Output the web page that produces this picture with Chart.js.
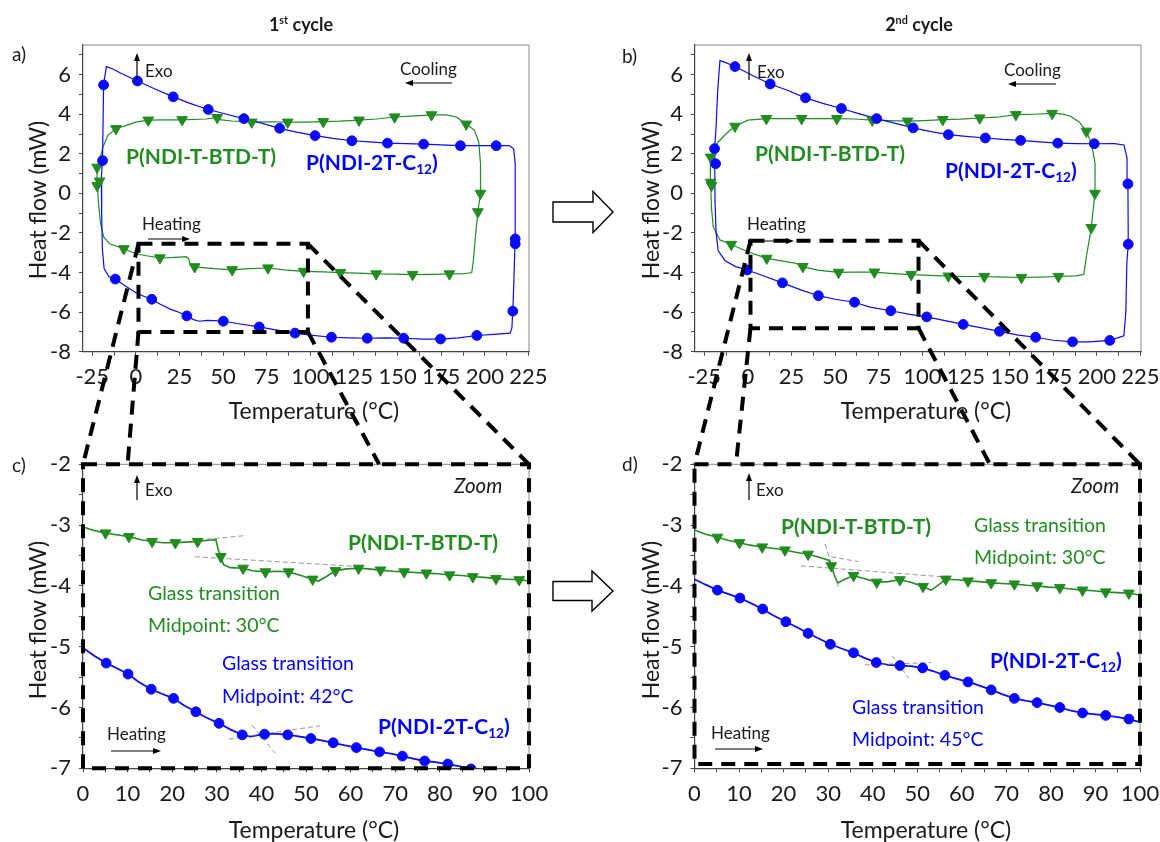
<!DOCTYPE html>
<html lang="en">
<head>
<meta charset="UTF-8">
<title>DSC heating / cooling cycles</title>
<script src="https://cdn.jsdelivr.net/npm/chart.js"></script>
<style>
  body { margin: 0; background: #fff; font-family: 'Lato', sans-serif; }
  #page { position: relative; width: 1160px; height: 842px; overflow: hidden; background: #fff; }
  #page canvas { position: absolute; }
  #overlay { left: 0; top: 0; pointer-events: none; }
  .t { position: absolute; white-space: nowrap; line-height: 1; transform: translateY(-50%); color: #1a1a1a; }
  .mid { transform: translate(-50%, -50%); }
  .rot { transform: translate(-50%, -50%) rotate(-90deg); }
  .axis { font-size: 23px; }
  .head { font-size: 18px; font-weight: 700; }
  .tag { font-size: 19px; }
  .note { font-size: 17px; }
  .zoom { font-size: 20.5px; font-style: italic; }
  .poly { font-size: 21px; font-weight: 700; }
  .gt { font-size: 19.5px; }
  .g { color: #228b22; }
  .b { color: #0000ff; }
  sup { font-size: 0.6em; vertical-align: 0.7em; }
  sub { font-size: 0.65em; vertical-align: -0.3em; }
</style>
</head>
<body>
<div id="page">
  <canvas id="chA" width="580" height="420" style="left:0;top:0"></canvas>
  <canvas id="chB" width="600" height="420" style="left:580px;top:0"></canvas>
  <canvas id="chC" width="580" height="422" style="left:0;top:420px"></canvas>
  <canvas id="chD" width="600" height="422" style="left:580px;top:420px"></canvas>
  <canvas id="overlay" width="1160" height="842"></canvas>

  <div class="t mid head" style="left:301px;top:24px">1<sup>st</sup> cycle</div>
  <div class="t mid head" style="left:919px;top:24px">2<sup>nd</sup> cycle</div>

  <div class="t tag" style="left:12px;top:53px">a)</div>
  <div class="t tag" style="left:622px;top:55px">b)</div>
  <div class="t tag" style="left:12px;top:464px">c)</div>
  <div class="t tag" style="left:622px;top:463px">d)</div>

  <div class="t rot axis" style="left:37px;top:200px">Heat flow (mW)</div>
  <div class="t rot axis" style="left:650px;top:200px">Heat flow (mW)</div>
  <div class="t rot axis" style="left:37px;top:620px">Heat flow (mW)</div>
  <div class="t rot axis" style="left:650px;top:620px">Heat flow (mW)</div>
  <div class="t mid axis" style="left:314px;top:410px">Temperature (°C)</div>
  <div class="t mid axis" style="left:926px;top:410px">Temperature (°C)</div>
  <div class="t mid axis" style="left:314px;top:829px">Temperature (°C)</div>
  <div class="t mid axis" style="left:926px;top:829px">Temperature (°C)</div>

  <!-- panel a -->
  <div class="t note" style="left:145px;top:70px">Exo</div>
  <div class="t note" style="left:400px;top:68px">Cooling</div>
  <div class="t note" style="left:142px;top:223px">Heating</div>
  <div class="t poly g" style="left:126px;top:155px">P(NDI-T-BTD-T)</div>
  <div class="t poly b" style="left:306px;top:164px">P(NDI-2T-C<sub>12</sub>)</div>

  <!-- panel b -->
  <div class="t note" style="left:757px;top:71px">Exo</div>
  <div class="t note" style="left:1004px;top:69px">Cooling</div>
  <div class="t note" style="left:747px;top:223px">Heating</div>
  <div class="t poly g" style="left:755px;top:152px">P(NDI-T-BTD-T)</div>
  <div class="t poly b" style="left:945px;top:172px">P(NDI-2T-C<sub>12</sub>)</div>

  <!-- panel c -->
  <div class="t note" style="left:145px;top:489px">Exo</div>
  <div class="t zoom" style="left:454px;top:485px">Zoom</div>
  <div class="t poly g" style="left:348px;top:541px">P(NDI-T-BTD-T)</div>
  <div class="t gt g" style="left:148px;top:593px">Glass transition</div>
  <div class="t gt g" style="left:148px;top:625px">Midpoint: 30°C</div>
  <div class="t gt b" style="left:222px;top:663px">Glass transition</div>
  <div class="t gt b" style="left:222px;top:696px">Midpoint: 42°C</div>
  <div class="t poly b" style="left:378px;top:728px">P(NDI-2T-C<sub>12</sub>)</div>
  <div class="t note" style="left:107px;top:733px">Heating</div>

  <!-- panel d -->
  <div class="t note" style="left:756px;top:489px">Exo</div>
  <div class="t zoom" style="left:1071px;top:485px">Zoom</div>
  <div class="t poly g" style="left:781px;top:525px">P(NDI-T-BTD-T)</div>
  <div class="t gt g" style="left:974px;top:525px">Glass transition</div>
  <div class="t gt g" style="left:974px;top:557px">Midpoint: 30°C</div>
  <div class="t poly b" style="left:990px;top:662px">P(NDI-2T-C<sub>12</sub>)</div>
  <div class="t gt b" style="left:852px;top:707px">Glass transition</div>
  <div class="t gt b" style="left:852px;top:739px">Midpoint: 45°C</div>
  <div class="t note" style="left:711px;top:732px">Heating</div>
</div>

<script>
// ---- data: [temperature °C, heat flow mW] ----

// 1st cycle, heating along the bottom then cooling back along the top
const c1Blue = [[-19.8,0.8],[-19.6,-1.0],[-19.2,-2.8],[-18.2,-3.8],[-15.5,-4.2],[-11.8,-4.33],[-6,-4.68],[0,-5.02],[4.5,-5.2],[9.1,-5.35],[14,-5.6],[20,-5.86],[25,-6.02],[29.2,-6.19],[33,-6.38],[36.5,-6.46],[41,-6.42],[45,-6.43],[50.1,-6.46],[60,-6.6],[70.7,-6.75],[80,-6.9],[91.2,-7.06],[100,-7.16],[112.1,-7.27],[122,-7.3],[132.6,-7.32],[143,-7.3],[153.5,-7.32],[164,-7.36],[174.6,-7.36],[185,-7.3],[195.4,-7.18],[205,-7.12],[214.5,-7.06],[215.5,-6.8],[216,-5.95],[216.6,-4.5],[217.3,-2.45],[217.5,-0.5],[217.3,1.5],[216.5,2.25],[214,2.42],[206.5,2.41],[196,2.41],[186,2.41],[175,2.45],[164.9,2.49],[155,2.52],[144.2,2.54],[134,2.6],[123.8,2.66],[113,2.78],[102.7,2.92],[92,3.1],[82.4,3.29],[72,3.55],[61.9,3.78],[52,4.0],[41.5,4.24],[31,4.55],[21.4,4.88],[11,5.28],[0.9,5.68],[-8,6.05],[-13.5,6.3],[-16.9,6.41],[-17.8,5.9],[-18.5,5.48],[-19.1,1.66],[-19.8,0.8]];
const c1BlueMarks = [[-18.5,5.48],[-19.1,1.66],[0.9,5.68],[21.4,4.88],[41.5,4.24],[61.9,3.78],[82.4,3.29],[102.7,2.92],[123.8,2.66],[144.2,2.54],[164.9,2.49],[186,2.41],[206.5,2.41],[217.4,-2.3],[217.4,-2.55],[216,-5.95],[195.4,-7.18],[174.6,-7.36],[153.5,-7.32],[132.6,-7.32],[112.1,-7.27],[91.2,-7.06],[70.7,-6.75],[50.1,-6.46],[29.2,-6.19],[9.1,-5.35],[-11.8,-4.33]];

const c1Green = [[-22,0.35],[-21.3,-0.6],[-20.3,-1.5],[-18.5,-2.2],[-15,-2.55],[-6.9,-2.8],[0,-3.05],[6,-3.15],[13.8,-3.26],[20,-3.25],[29,-3.2],[30.2,-3.3],[31.3,-3.6],[33.7,-3.71],[45,-3.8],[55.2,-3.86],[65,-3.8],[75.7,-3.77],[85,-3.86],[96.1,-3.94],[107.4,-3.97],[117.2,-4.0],[127,-4.03],[137.7,-4.07],[148,-4.08],[158.6,-4.1],[170,-4.09],[179.7,-4.07],[188,-4.06],[192.5,-4.0],[193.3,-3.5],[194.8,-2.0],[196,-0.93],[197.5,0.0],[197.5,1.5],[196.5,2.6],[194,3.2],[189.3,3.5],[184,3.85],[178,3.97],[169.4,3.97],[160,3.92],[148.3,3.86],[138,3.76],[127.9,3.7],[117,3.65],[107.4,3.63],[97,3.6],[87,3.6],[76,3.62],[66.4,3.6],[55,3.66],[49,3.72],[46.6,3.83],[40,3.76],[26.5,3.72],[17,3.72],[7.1,3.7],[0,3.6],[-5,3.45],[-11.4,3.27],[-16,2.95],[-19,2.3],[-21,1.6],[-22.2,1.32],[-22.3,0.4]];
const c1GreenMarks = [[-22.2,1.32],[-22.2,0.39],[-20.8,0.62],[-11.4,3.27],[7.1,3.7],[26.5,3.72],[46.6,3.83],[66.4,3.6],[87,3.6],[107.4,3.63],[127.9,3.7],[148.3,3.86],[169.4,3.97],[189.3,3.5],[197.5,0.0],[196,-0.93],[179.7,-4.07],[158.6,-4.1],[137.7,-4.07],[117.2,-4.0],[96.1,-3.94],[75.7,-3.77],[55.2,-3.86],[33.7,-3.71],[13.8,-3.26],[-6.9,-2.8]];

// 2nd cycle
const c2Blue = [[-19,1.2],[-18.8,-0.5],[-18.2,-2.0],[-17,-2.9],[-13,-3.4],[-7,-3.7],[-0.4,-3.87],[10,-4.2],[19.8,-4.52],[30,-4.86],[40.4,-5.17],[50,-5.35],[61.1,-5.5],[70,-5.75],[81.9,-5.93],[92,-6.1],[102.5,-6.24],[113,-6.43],[123.4,-6.62],[134,-6.8],[144.2,-6.97],[155,-7.16],[164.9,-7.27],[175,-7.42],[186.1,-7.5],[196,-7.5],[207.4,-7.43],[215.5,-7.2],[216.6,-6.0],[217.2,-3.5],[218,-2.57],[217.8,0.48],[217.3,1.8],[215.5,2.45],[210,2.52],[198.5,2.51],[188,2.52],[177.6,2.54],[167,2.6],[156.3,2.68],[146,2.73],[136.1,2.8],[125,2.88],[114.9,2.97],[105,3.12],[94.7,3.31],[84,3.55],[73.8,3.78],[64,4.02],[53.6,4.29],[43,4.55],[33,4.83],[23,5.2],[12.8,5.53],[3,5.95],[-7.4,6.41],[-13,6.62],[-16,6.71],[-17.3,5.2],[-18.3,3.2],[-19.1,2.26],[-19,1.2]];
const c2BlueMarks = [[-7.4,6.41],[12.8,5.53],[33,4.83],[53.6,4.29],[73.8,3.78],[94.7,3.31],[114.9,2.97],[136.1,2.8],[156.3,2.68],[177.6,2.54],[198.5,2.51],[217.8,0.48],[218,-2.57],[207.4,-7.43],[186.1,-7.5],[164.9,-7.27],[144.2,-6.97],[123.4,-6.62],[102.5,-6.24],[81.9,-5.93],[61.1,-5.5],[40.4,-5.17],[19.8,-4.52],[-0.4,-3.87],[-19.1,2.26],[-18.5,1.5]];

const c2Green = [[-21.3,0.4],[-20.8,-0.8],[-19.8,-1.7],[-16,-2.35],[-9.5,-2.58],[0,-2.95],[10.8,-3.28],[20,-3.42],[27,-3.52],[31.5,-3.7],[40,-3.88],[52,-3.99],[60,-3.98],[72.5,-3.98],[83,-4.05],[93.6,-4.1],[104,-4.14],[114.9,-4.18],[125,-4.2],[135.5,-4.2],[146,-4.23],[156.8,-4.25],[167,-4.23],[178,-4.2],[188,-4.17],[192.5,-4.1],[194,-3.2],[196.8,-1.73],[198.9,0.0],[199,1.5],[197,2.5],[194,3.14],[190,3.6],[185,3.9],[180,4.02],[174.4,4.04],[164,4.0],[153.6,3.98],[143,3.85],[132.9,3.81],[122,3.75],[111.7,3.73],[101,3.68],[91.5,3.65],[81,3.68],[71.3,3.7],[61,3.76],[51,3.78],[40,3.78],[30.8,3.78],[20,3.78],[10.6,3.78],[0,3.7],[-7.4,3.39],[-12,3.05],[-17,2.6],[-20,2.1],[-21.3,1.83],[-21.5,0.56]];
const c2GreenMarks = [[-21.3,1.83],[-21.3,0.56],[-20.8,0.4],[-7.4,3.39],[10.6,3.78],[30.8,3.78],[51,3.78],[71.3,3.7],[91.5,3.65],[111.7,3.73],[132.9,3.81],[153.6,3.98],[174.4,4.04],[194,3.14],[198.9,0.0],[196.8,-1.73],[178,-4.2],[156.8,-4.25],[135.5,-4.2],[114.9,-4.18],[93.6,-4.1],[72.5,-3.98],[52,-3.99],[31.5,-3.7],[10.8,-3.28],[-9.5,-2.58]];

// heating runs between 0 and 100 °C, zoomed
const z1Green = [[0,-3.03],[2.5,-3.09],[5.05,-3.13],[7.5,-3.16],[10.3,-3.19],[13,-3.24],[15.5,-3.27],[18,-3.29],[20.7,-3.29],[23,-3.28],[25.7,-3.27],[28,-3.25],[29.8,-3.24],[30.3,-3.4],[30.9,-3.52],[31.5,-3.65],[33,-3.7],[35.9,-3.71],[38,-3.75],[40.9,-3.77],[43.5,-3.76],[46.1,-3.77],[48.5,-3.82],[51.5,-3.89],[52.8,-3.92],[54.5,-3.85],[56.6,-3.75],[59,-3.72],[61.8,-3.71],[64,-3.72],[66.7,-3.74],[69.5,-3.76],[72,-3.77],[74.5,-3.78],[77,-3.79],[79.5,-3.8],[82.2,-3.82],[85,-3.83],[87.4,-3.85],[90,-3.86],[92.6,-3.88],[95,-3.89],[97.8,-3.9],[100,-3.92]];
const z1GreenMarkT = [5.05,10.3,15.5,20.7,25.7,30.9,35.9,40.9,46.1,51.5,56.6,61.8,66.7,72,77,82.2,87.4,92.6,97.8];
const z1Blue = [[0,-5.02],[2.5,-5.15],[5.2,-5.27],[7.5,-5.35],[10.1,-5.45],[12.5,-5.58],[15.3,-5.7],[17.5,-5.77],[20.3,-5.85],[22.5,-5.96],[25.3,-6.07],[27.5,-6.16],[30.5,-6.26],[33,-6.36],[35.7,-6.45],[37.5,-6.48],[39,-6.46],[40.7,-6.44],[43,-6.43],[45.9,-6.45],[48,-6.47],[51.1,-6.51],[53.5,-6.54],[56.1,-6.58],[58.5,-6.62],[61.3,-6.66],[63.5,-6.69],[66.5,-6.73],[69,-6.76],[71.6,-6.8],[74,-6.84],[76.6,-6.88],[79,-6.9],[81.8,-6.93],[84.5,-6.97],[87,-7.01],[90,-7.06],[95,-7.14],[100,-7.22]];
const z1BlueMarkT = [5.2,10.1,15.3,20.3,25.3,30.5,35.7,40.7,45.9,51.1,56.1,61.3,66.5,71.6,76.6,81.8,87];
const z1Tangents = [[[25.9,-3.245],[36.7,-3.17]],[[25.1,-3.52],[61.5,-3.68]],[[32.7,-6.52],[53.1,-6.30]],[[37.9,-6.29],[43.1,-6.75]]];

const z2Green = [[0,-3.08],[2.5,-3.15],[5.15,-3.2],[7.5,-3.25],[10.1,-3.29],[12.5,-3.33],[15.2,-3.36],[17.5,-3.38],[20.3,-3.41],[23,-3.45],[25.5,-3.48],[28,-3.53],[30.2,-3.58],[30.7,-3.67],[31.5,-3.85],[32.2,-3.95],[33.5,-3.9],[35.7,-3.83],[38,-3.88],[40.9,-3.94],[43.5,-3.93],[46.1,-3.9],[48.5,-3.94],[51.3,-4.01],[53.1,-4.07],[54.5,-4.0],[56.4,-3.89],[59,-3.9],[61.4,-3.92],[64,-3.93],[66.6,-3.95],[69,-3.96],[71.8,-3.97],[74.5,-3.99],[76.9,-4.0],[79.5,-4.02],[82,-4.03],[84.5,-4.05],[87.1,-4.07],[89.5,-4.08],[92.3,-4.1],[95,-4.11],[97.5,-4.12],[100,-4.15]];
const z2GreenMarkT = [5.15,10.1,15.2,20.3,25.5,30.7,35.7,40.9,46.1,51.3,56.4,61.4,66.6,71.8,76.9,82,87.1,92.3,97.5];
const z2Blue = [[0,-3.89],[2.5,-3.98],[5.15,-4.07],[7.5,-4.13],[10.2,-4.2],[12.5,-4.28],[15.3,-4.38],[17.5,-4.48],[20.5,-4.59],[23,-4.68],[25.5,-4.78],[28,-4.87],[30.5,-4.96],[33,-5.03],[35.7,-5.1],[38,-5.18],[40.8,-5.26],[43.5,-5.3],[46.1,-5.31],[48.5,-5.32],[51.2,-5.35],[53.5,-5.4],[56.2,-5.47],[58.5,-5.52],[61.4,-5.58],[64,-5.64],[66.6,-5.71],[69,-5.78],[71.8,-5.85],[74.5,-5.89],[76.9,-5.92],[79.5,-5.96],[82,-6.0],[84.5,-6.05],[87.1,-6.09],[89.5,-6.11],[92.3,-6.13],[95,-6.16],[97.5,-6.19],[100,-6.24]];
const z2BlueMarkT = [5.15,10.2,15.3,20.5,25.5,30.5,35.7,40.8,46.1,51.2,56.2,61.4,66.6,71.8,76.9,82,87.1,92.3,97.5];
const z2Tangents = [[[29.3,-3.31],[32.4,-4.04]],[[23.9,-3.67],[55.6,-3.85]],[[30.7,-3.52],[36.7,-3.6]],[[38.2,-5.30],[53.1,-5.26]],[[44.4,-5.15],[48.1,-5.52]]];

// tick values
const fullTempMajor = [-25,0,25,50,75,100,125,150,175,200,225];
const fullTempMinor = [-12.5,12.5,37.5,62.5,87.5,112.5,137.5,162.5,187.5,212.5];
const fullHeatMajor = [-8,-6,-4,-2,0,2,4,6];
const fullHeatMinor = [-7,-5,-3,-1,1,3,5,7];
const zoomTempMajor = [0,10,20,30,40,50,60,70,80,90,100];
const zoomTempMinor = [5,15,25,35,45,55,65,75,85,95];
const zoomHeatMajor = [-7,-6,-5,-4,-3,-2];
const zoomHeatMinor = [-6.5,-5.5,-4.5,-3.5,-2.5];

const BLUE = '#0a0aff';
const GREEN = '#228b22';

Chart.defaults.font.family = "'Lato', sans-serif";
Chart.defaults.color = '#1a1a1a';

const pts = arr => arr.map(([x, y]) => ({ x, y }));
const pick = (path, temps) => path.filter(p => temps.includes(p[0]));

function axis(min, max, major, minor, size) {
  const all = major.concat(minor).sort((a, b) => a - b);
  return {
    type: 'linear', min, max,
    afterBuildTicks: s => { s.ticks = all.map(v => ({ value: v })); },
    afterFit: s => {
      if (s.isHorizontal()) { s.height = size; s.paddingLeft = 0; s.paddingRight = 0; }
      else { s.width = size; s.paddingTop = 0; s.paddingBottom = 0; }
    },
    grid: { drawOnChartArea: false, drawTicks: true, tickLength: 4, color: '#444' },
    border: { color: '#444', width: 1.2 },
    ticks: {
      autoSkip: false, maxRotation: 0, padding: 8, color: '#1a1a1a',
      font: { size: 22 },
      callback: v => major.includes(v) ? String(v) : ''
    }
  };
}

function curve(data, color, width, clip) {
  return { data: pts(data), showLine: true, borderColor: color, borderWidth: width,
           pointRadius: 0, tension: 0, clip };
}
function marks(data, color, style, clip) {
  const tri = style === 'triangle';
  return { data: pts(data), showLine: false, pointStyle: style, rotation: tri ? 180 : 0,
           pointRadius: tri ? 6.2 : 4.9, backgroundColor: color, borderColor: color,
           borderWidth: 1, clip };
}
function tangent(seg) {
  return { data: pts(seg), showLine: true, borderColor: '#7a7a7a', borderWidth: 0.8,
           borderDash: [5, 3], pointRadius: 0, clip: 0 };
}

// thin box on the top and right sides of the plot
const framePlugin = {
  id: 'frame',
  afterDraw(chart) {
    const { ctx, chartArea: a } = chart;
    ctx.save();
    ctx.strokeStyle = '#888';
    ctx.lineWidth = 1;
    ctx.beginPath();
    ctx.moveTo(a.left, a.top);
    ctx.lineTo(a.right, a.top);
    ctx.lineTo(a.right, a.bottom);
    ctx.stroke();
    ctx.restore();
  }
};

function makeChart(id, datasets, xAxis, yAxis, padding) {
  return new Chart(document.getElementById(id), {
    type: 'scatter',
    data: { datasets },
    options: {
      responsive: false, animation: false, devicePixelRatio: 1,
      layout: { padding },
      scales: { x: xAxis, y: yAxis },
      plugins: { legend: { display: false }, tooltip: { enabled: false } }
    },
    plugins: [framePlugin]
  });
}

const fullX = () => axis(-30.3, 225.3, fullTempMajor, fullTempMinor, 40);
const fullY = () => axis(-8, 7.5, fullHeatMajor, fullHeatMinor, 60);
const zoomX = () => axis(0, 100, zoomTempMajor, zoomTempMinor, 40);
const zoomY = () => axis(-7, -2, zoomHeatMajor, zoomHeatMinor, 60);

const chartA = makeChart('chA', [
  marks(c1BlueMarks, BLUE, 'circle'), marks(c1GreenMarks, GREEN, 'triangle'),
  curve(c1Blue, BLUE, 1.2), curve(c1Green, GREEN, 1.2)
], fullX(), fullY(), { left: 23, top: 45, right: 51, bottom: 28.3 });

const chartB = makeChart('chB', [
  marks(c2BlueMarks, BLUE, 'circle'), marks(c2GreenMarks, GREEN, 'triangle'),
  curve(c2Blue, BLUE, 1.2), curve(c2Green, GREEN, 1.2)
], fullX(), fullY(), { left: 55, top: 45, right: 39, bottom: 28.3 });

const chartC = makeChart('chC', [
  marks(pick(z1Blue, z1BlueMarkT), BLUE, 'circle', 0), marks(pick(z1Green, z1GreenMarkT), GREEN, 'triangle', 0),
  ...z1Tangents.map(tangent),
  curve(z1Blue, BLUE, 1.8, 0), curve(z1Green, GREEN, 1.6, 0)
], zoomX(), zoomY(), { left: 23, top: 44.3, right: 51, bottom: 33.7 });

const chartD = makeChart('chD', [
  marks(pick(z2Blue, z2BlueMarkT), BLUE, 'circle', 0), marks(pick(z2Green, z2GreenMarkT), GREEN, 'triangle', 0),
  ...z2Tangents.map(tangent),
  curve(z2Blue, BLUE, 1.8, 0), curve(z2Green, GREEN, 1.6, 0)
], zoomX(), zoomY(), { left: 54.5, top: 44.3, right: 40, bottom: 33.7 });

// ---- overlay: zoom boxes, connector lines and small arrows ----
const ov = document.getElementById('overlay').getContext('2d');

function toPage(chart, x, y) {
  const c = chart.canvas;
  return [c.offsetLeft + chart.scales.x.getPixelForValue(x), c.offsetTop + chart.scales.y.getPixelForValue(y)];
}
function seg(a, b) {
  ov.beginPath(); ov.moveTo(a[0], a[1]); ov.lineTo(b[0], b[1]); ov.stroke();
}
function rectFrom(a, b) {
  ov.strokeRect(a[0], a[1], b[0] - a[0], b[1] - a[1]);
}

// box in the full cycle, projected onto the zoomed panel below it
function zoomLink(src, box, dst, feet, frameBottom) {
  const tl = toPage(src, box[0], box[2]);
  const br = toPage(src, box[1], box[3]);
  const dTL = toPage(dst, 0, -2), dTR = toPage(dst, 100, -2);
  ov.save();
  ov.strokeStyle = '#000';
  ov.lineWidth = 4;
  ov.setLineDash([14, 9]);
  rectFrom(tl, br);
  seg(tl, dTL);
  seg([tl[0], br[1]], toPage(dst, feet[0], -2));
  seg([br[0], tl[1]], dTR);
  seg(br, toPage(dst, feet[1], -2));
  rectFrom(dTL, toPage(dst, 100, frameBottom));
  ov.restore();
}
zoomLink(chartA, [1.5, 98.6, -2.55, -7.0], chartC, [10, 66.4], -7);
zoomLink(chartB, [1.5, 97.8, -2.39, -6.81], chartD, [9.3, 66.3], -6.93);

function arrow(x1, y1, x2, y2) {
  const ang = Math.atan2(y2 - y1, x2 - x1), L = 8, W = 3;
  ov.save();
  ov.strokeStyle = '#000'; ov.fillStyle = '#000'; ov.lineWidth = 1.2;
  seg([x1, y1], [x2 - Math.cos(ang) * 4, y2 - Math.sin(ang) * 4]);
  ov.beginPath();
  ov.moveTo(x2, y2);
  ov.lineTo(x2 - L * Math.cos(ang) + W * Math.sin(ang), y2 - L * Math.sin(ang) - W * Math.cos(ang));
  ov.lineTo(x2 - L * Math.cos(ang) - W * Math.sin(ang), y2 - L * Math.sin(ang) + W * Math.cos(ang));
  ov.closePath(); ov.fill();
  ov.restore();
}
arrow(137, 80, 137, 53);   arrow(452, 83, 405, 83);   arrow(148, 239, 190, 239);
arrow(749, 80, 749, 53);   arrow(1056, 84, 1008, 84); arrow(748, 241, 794, 241);
arrow(137, 500, 137, 475); arrow(111, 751, 161, 751);
arrow(749, 500, 749, 473); arrow(715, 749, 763, 749);

// open block arrows between the two cycles
function blockArrow(x, y, bodyW, bodyH, headW, headH) {
  ov.save();
  ov.strokeStyle = '#000'; ov.fillStyle = '#fff'; ov.lineWidth = 1.4;
  ov.beginPath();
  ov.moveTo(x, y - bodyH / 2);
  ov.lineTo(x + bodyW, y - bodyH / 2);
  ov.lineTo(x + bodyW, y - headH / 2);
  ov.lineTo(x + bodyW + headW, y);
  ov.lineTo(x + bodyW, y + headH / 2);
  ov.lineTo(x + bodyW, y + bodyH / 2);
  ov.lineTo(x, y + bodyH / 2);
  ov.closePath(); ov.fill(); ov.stroke();
  ov.restore();
}
blockArrow(553, 212, 40, 20, 20, 41);
blockArrow(553, 591, 39, 19, 21, 40);
</script>
</body>
</html>
